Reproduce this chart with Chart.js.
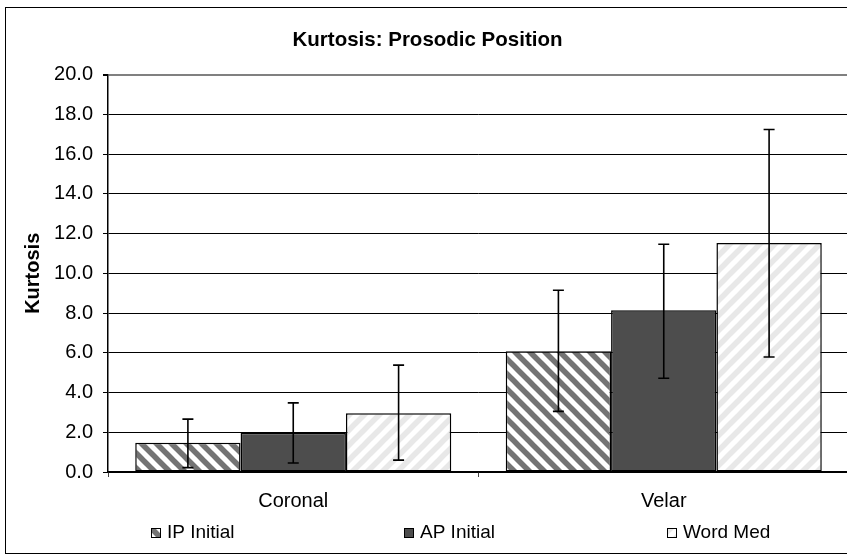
<!DOCTYPE html>
<html>
<head>
<meta charset="utf-8">
<script src="https://cdn.jsdelivr.net/npm/chart.js@4.4.1/dist/chart.umd.min.js"></script>
<style>
  html, body { margin: 0; padding: 0; background: #fff; overflow: hidden; }
  #frame { position: absolute; left: 5px; top: 7px; width: 860px; height: 545px; border: 1px solid #000; }
  #myChart { position: absolute; left: 0; top: 0; }
</style>
</head>
<body>
<div id="frame"><canvas id="myChart" width="852" height="545"></canvas></div>
<script>
// Values
const categories = ['Coronal', 'Velar'];
const seriesNames = ['IP Initial', 'AP Initial', 'Word Med'];

const ipInitial = [1.47, 6.08];
const ipLow = [0.22, 3.05];
const ipHigh = [2.66, 9.15];

const apInitial = [1.97, 8.14];
const apLow = [0.45, 4.72];
const apHigh = [3.48, 11.46];

const wordMed = [2.96, 11.52];
const wmLow = [0.60, 5.79];
const wmHigh = [5.38, 17.24];

const yTicks = [0, 2, 4, 6, 8, 10, 12, 14, 16, 18, 20];

const FONT = '"Liberation Sans", Arial, sans-serif';

function makeStripes(bg, fg, dir) {
    const s = 15;
    const c = document.createElement('canvas');
    c.width = s;
    c.height = s;
    const g = c.getContext('2d');
    g.fillStyle = bg;
    g.fillRect(0, 0, s, s);
    g.strokeStyle = fg;
    g.lineWidth = 5.5;
    // lines run past the tile edges so the tiles join without gaps
    for (let o = -s; o <= s; o += s) {
        g.beginPath();
        if (dir === 'down') {
            g.moveTo(o - 4, -4);
            g.lineTo(o + s + 4, s + 4);
        } else {
            g.moveTo(o - 4, s + 4);
            g.lineTo(o + s + 4, -4);
        }
        g.stroke();
    }
    return g.createPattern(c, 'repeat');
}

const ctx = document.getElementById('myChart').getContext('2d');
const ipFill = makeStripes('#ffffff', '#747474', 'down');
const wmFill = makeStripes('#ffffff', '#e8e8e8', 'up');
const apFill = '#4d4d4d';

// draws the error bars from the low/high arrays
const errorBars = {
    id: 'errorBars',
    afterDatasetsDraw(chart) {
        const c = chart.ctx;
        const y = chart.scales.y;
        chart.data.datasets.forEach((ds, i) => {
            const meta = chart.getDatasetMeta(i);
            meta.data.forEach((bar, j) => {
                const top = y.getPixelForValue(ds.errHigh[j]);
                const bottom = y.getPixelForValue(ds.errLow[j]);
                c.save();
                c.strokeStyle = '#000';
                c.lineWidth = 1.6;
                c.beginPath();
                c.moveTo(bar.x, top);
                c.lineTo(bar.x, bottom);
                c.moveTo(bar.x - 5.5, top);
                c.lineTo(bar.x + 5.5, top);
                c.moveTo(bar.x - 5.5, bottom);
                c.lineTo(bar.x + 5.5, bottom);
                c.stroke();
                c.restore();
            });
        });
    }
};

// Excel style legend spread along the bottom
const bottomLegend = {
    id: 'bottomLegend',
    afterDraw(chart) {
        const c = chart.ctx;
        const xs = [145, 398, 661];
        c.save();
        c.font = '19px ' + FONT;
        c.textBaseline = 'middle';
        chart.data.datasets.forEach((ds, i) => {
            c.fillStyle = ds.backgroundColor;
            c.fillRect(xs[i], 520, 10, 10);
            c.strokeStyle = '#000';
            c.lineWidth = 1;
            c.strokeRect(xs[i] + 0.5, 520.5, 9, 9);
            c.fillStyle = '#000';
            c.fillText(ds.label, xs[i] + 16, 525);
        });
        c.restore();
    }
};

new Chart(ctx, {
    type: 'bar',
    data: {
        labels: categories,
        datasets: [
            { label: seriesNames[0], data: ipInitial, errLow: ipLow, errHigh: ipHigh, backgroundColor: ipFill },
            { label: seriesNames[1], data: apInitial, errLow: apLow, errHigh: apHigh, backgroundColor: apFill },
            { label: seriesNames[2], data: wordMed, errLow: wmLow, errHigh: wmHigh, backgroundColor: wmFill }
        ]
    },
    options: {
        responsive: false,
        animation: false,
        datasets: {
            bar: {
                categoryPercentage: 0.853,
                barPercentage: 1.0,
                borderColor: '#000',
                borderWidth: 1.5,
                borderSkipped: false
            }
        },
        layout: { padding: { left: 0, right: 9, top: 0, bottom: 0 } },
        scales: {
            x: {
                afterFit(scale) { scale.height = 81; },
                grid: {
                    drawOnChartArea: false,
                    drawTicks: true,
                    tickLength: 5,
                    color: '#444',
                    offset: true
                },
                border: { color: '#000', width: 1.5 },
                ticks: {
                    padding: 12,
                    color: '#000',
                    font: { family: FONT, size: 20 }
                }
            },
            y: {
                min: 0,
                max: 20,
                afterFit(scale) { scale.width = 102; },
                afterBuildTicks(scale) { scale.ticks = yTicks.map(v => ({ value: v })); },
                grid: {
                    color: c => c.tick && c.tick.value === 20 ? '#808080' : '#000',
                    lineWidth: c => c.tick && c.tick.value === 20 ? 2 : 1,
                    tickColor: '#000',
                    tickLength: 5
                },
                border: { color: '#000', width: 1.5 },
                ticks: {
                    padding: 10,
                    color: '#000',
                    font: { family: FONT, size: 20 },
                    callback: v => Number(v).toFixed(1)
                },
                title: {
                    display: true,
                    text: 'Kurtosis',
                    color: '#000',
                    padding: { top: 15, bottom: 0 },
                    font: { family: FONT, size: 20, weight: 'bold' }
                }
            }
        },
        plugins: {
            legend: { display: false },
            tooltip: { enabled: false },
            title: {
                display: true,
                text: 'Kurtosis: Prosodic Position',
                color: '#000',
                padding: { top: 20, bottom: 22 },
                font: { family: FONT, size: 20.5, weight: 'bold', lineHeight: 1.2 }
            }
        }
    },
    plugins: [errorBars, bottomLegend]
});
</script>
</body>
</html>
